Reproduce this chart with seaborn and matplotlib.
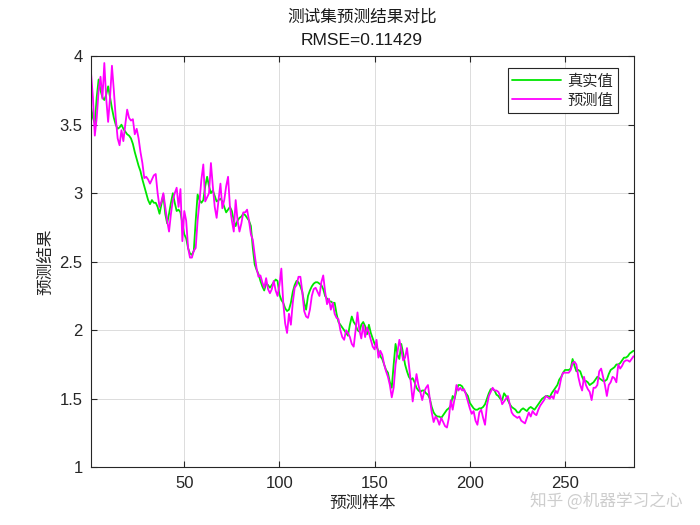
import numpy as np
import pandas as pd
import matplotlib
matplotlib.use("Agg")
import matplotlib.pyplot as plt
import seaborn as sns
from matplotlib.lines import Line2D

# 真实值 (green) and 预测值 (magenta), samples 1..286
true_vals = [
    3.63, 3.55, 3.51, 3.70, 3.83, 3.75, 3.70, 3.68, 3.72, 3.78,
    3.70, 3.62, 3.55, 3.50, 3.47, 3.48, 3.50, 3.47, 3.45, 3.43,
    3.42, 3.40, 3.36, 3.30, 3.25, 3.20, 3.16, 3.10, 3.05, 3.00,
    2.95, 2.92, 2.95, 2.93, 2.93, 2.90, 2.85, 2.92, 2.99, 2.85,
    2.78, 2.85, 2.93, 3.00, 2.93, 2.87, 2.88, 2.86, 2.78, 2.70,
    2.67, 2.60, 2.56, 2.55, 2.58, 2.80, 2.99, 2.95, 2.93, 2.95,
    3.05, 3.12, 3.05, 3.00, 3.02, 2.98, 2.94, 2.95, 2.96, 2.94,
    2.90, 2.86, 2.88, 2.90, 2.87, 2.80, 2.76, 2.80, 2.82, 2.83,
    2.85, 2.84, 2.82, 2.80, 2.76, 2.60, 2.48, 2.44, 2.41, 2.36,
    2.32, 2.29, 2.34, 2.33, 2.31, 2.33, 2.35, 2.37, 2.36, 2.26,
    2.22, 2.20, 2.16, 2.14, 2.15, 2.20, 2.28, 2.33, 2.36, 2.35,
    2.32, 2.28, 2.20, 2.15, 2.25, 2.29, 2.32, 2.34, 2.35, 2.35,
    2.34, 2.33, 2.30, 2.25, 2.23, 2.21, 2.21, 2.20, 2.20, 2.12,
    2.06, 2.04, 2.02, 2.00, 1.98, 1.96, 2.04, 2.10, 2.06, 2.04,
    2.00, 1.99, 2.04, 2.06, 2.03, 1.97, 2.04, 1.98, 1.94, 1.90,
    1.88, 1.85, 1.81, 1.79, 1.75, 1.71, 1.69, 1.62, 1.58, 1.75,
    1.90, 1.82, 1.79, 1.90, 1.83, 1.75, 1.70, 1.66, 1.64, 1.65,
    1.62, 1.58, 1.56, 1.55, 1.56, 1.56, 1.54, 1.53, 1.50, 1.44,
    1.40, 1.38, 1.37, 1.37, 1.36, 1.38, 1.40, 1.42, 1.43, 1.45,
    1.52, 1.50, 1.56, 1.60, 1.60, 1.59, 1.56, 1.54, 1.52, 1.47,
    1.45, 1.43, 1.42, 1.42, 1.43, 1.43, 1.44, 1.46, 1.50, 1.54,
    1.57, 1.57, 1.56, 1.53, 1.52, 1.50, 1.49, 1.54, 1.52, 1.49,
    1.46, 1.44, 1.43, 1.42, 1.40, 1.40, 1.42, 1.43, 1.42, 1.41,
    1.43, 1.44, 1.43, 1.42, 1.44, 1.46, 1.48, 1.50, 1.51, 1.52,
    1.52, 1.51, 1.54, 1.56, 1.58, 1.60, 1.64, 1.66, 1.69, 1.71,
    1.71, 1.71, 1.72, 1.79, 1.74, 1.70, 1.71, 1.70, 1.66, 1.63,
    1.63, 1.62, 1.60, 1.61, 1.62, 1.64, 1.66, 1.65, 1.64, 1.63,
    1.63, 1.64, 1.68, 1.71, 1.72, 1.73, 1.75, 1.75, 1.76, 1.78,
    1.80, 1.80, 1.81, 1.83, 1.84, 1.85,
]

pred_vals = [
    3.88, 3.70, 3.42, 3.55, 3.75, 3.85, 3.69, 3.95, 3.69, 3.52,
    3.70, 3.93, 3.75, 3.55, 3.40, 3.35, 3.46, 3.38, 3.50, 3.61,
    3.55, 3.53, 3.54, 3.43, 3.47, 3.40, 3.30, 3.22, 3.11, 3.12,
    3.10, 3.07, 3.10, 3.13, 3.14, 3.00, 2.90, 2.94, 3.00, 2.90,
    2.80, 2.72, 2.85, 2.95, 3.00, 3.04, 2.90, 3.03, 2.65, 2.87,
    2.80, 2.60, 2.53, 2.53, 2.58, 2.60, 2.80, 2.94, 3.10, 3.21,
    2.94, 2.97, 3.00, 3.22, 3.05, 2.90, 2.82, 2.95, 3.07, 2.89,
    2.95, 3.05, 3.12, 2.90, 2.80, 2.72, 2.95, 2.80, 2.72, 2.78,
    2.86, 2.86, 2.88, 2.80, 2.70, 2.66, 2.55, 2.45, 2.39, 2.40,
    2.35, 2.31, 2.38, 2.30, 2.27, 2.30, 2.36, 2.29, 2.25, 2.33,
    2.45, 2.20, 2.05, 1.98, 2.12, 2.04, 2.20, 2.31, 2.33, 2.39,
    2.39, 2.28, 2.14, 2.10, 2.09, 2.15, 2.25, 2.30, 2.31, 2.28,
    2.25, 2.35, 2.40, 2.28, 2.19, 2.23, 2.15, 2.20, 2.12, 2.09,
    2.08, 2.00, 1.95, 1.93, 2.00, 1.98, 1.95, 1.90, 1.88, 2.00,
    2.13, 2.00, 1.94, 2.04, 1.95, 2.02, 1.98, 1.93, 1.88, 1.86,
    1.93, 1.80, 1.85, 1.82, 1.75, 1.70, 1.66, 1.60, 1.51, 1.58,
    1.75, 1.84, 1.93, 1.86, 1.78, 1.80, 1.87, 1.75, 1.62, 1.48,
    1.58, 1.68, 1.60, 1.55, 1.49, 1.55, 1.58, 1.60, 1.50, 1.40,
    1.33, 1.37, 1.35, 1.31, 1.36, 1.33, 1.30, 1.29, 1.36, 1.49,
    1.42, 1.50, 1.60, 1.56, 1.58, 1.56, 1.57, 1.53, 1.48, 1.43,
    1.39, 1.41, 1.34, 1.31, 1.40, 1.42, 1.36, 1.31, 1.45, 1.52,
    1.55, 1.58, 1.56, 1.56, 1.55, 1.52, 1.46, 1.48, 1.50, 1.52,
    1.46, 1.40, 1.38, 1.37, 1.36, 1.37, 1.34, 1.33, 1.32, 1.36,
    1.40, 1.37, 1.41, 1.39, 1.38, 1.42, 1.45, 1.47, 1.49, 1.52,
    1.51, 1.50, 1.52, 1.50, 1.56, 1.54, 1.58, 1.65, 1.69, 1.69,
    1.69, 1.69, 1.71, 1.76, 1.77, 1.75, 1.66, 1.60, 1.56, 1.66,
    1.60, 1.57, 1.55, 1.49, 1.58, 1.58, 1.60, 1.70, 1.72, 1.66,
    1.60, 1.52, 1.60, 1.62, 1.66, 1.65, 1.62, 1.75, 1.72, 1.74,
    1.77, 1.78, 1.78, 1.77, 1.79, 1.81,
]

series_names = ["真实值", "预测值"]
y_ticks = [1, 1.5, 2, 2.5, 3, 3.5, 4]
x_ticks = [50, 100, 150, 200, 250]

sample = np.arange(1, len(true_vals) + 1)
df = pd.DataFrame({
    "样本": np.concatenate([sample, sample]),
    "值": true_vals + pred_vals,
    "类别": [series_names[0]] * len(true_vals) + [series_names[1]] * len(pred_vals),
})

sns.set_style("ticks")
plt.rcParams["font.family"] = ["Liberation Sans", "Noto Sans CJK SC", "DejaVu Sans"]
cjk = ["Noto Sans CJK SC", "DejaVu Sans"]
colors = {"真实值": "#00e600", "预测值": "#ff00ff"}

fig = plt.figure(figsize=(7, 5.25), dpi=100)
ax = fig.add_axes([0.13, 0.11, 0.775, 0.783])

sns.lineplot(data=df, x="样本", y="值", hue="类别", palette=colors,
             linewidth=1.3, ax=ax, legend=False)

ax.set_xlim(1, len(true_vals))
ax.set_ylim(1, 4)
ax.set_xticks(x_ticks)
ax.set_yticks(y_ticks)
ax.set_yticklabels([f"{v:g}" for v in y_ticks])
ax.tick_params(direction="in", top=True, right=True, labelsize=12,
               length=4, width=0.8, colors="#262626", pad=6)
ax.grid(True, color="#dcdcdc", linewidth=0.7)
for s in ax.spines.values():
    s.set_color("#262626")
    s.set_linewidth(0.8)

ax.set_xlabel("预测样本", family=cjk, fontsize=12, color="#262626", labelpad=3)
ax.set_ylabel("预测结果", family=cjk, fontsize=12, color="#262626", labelpad=4)

fig.text(0.517, 0.968, "测试集预测结果对比", family=cjk, fontsize=12,
         ha="center", va="center", color="#1a1a1a")
fig.text(0.517, 0.922, "RMSE=0.11429", fontsize=12.5,
         ha="center", va="center", color="#1a1a1a")

handles = [Line2D([], [], color=colors[n], lw=1.3) for n in series_names]
leg = ax.legend(handles, series_names, loc="upper right", prop={"family": cjk, "size": 11},
                frameon=True, fancybox=False, edgecolor="#262626", framealpha=1,
                borderpad=0.3, handlelength=3.2, handletextpad=0.4, labelspacing=0.15,
                bbox_to_anchor=(0.985, 0.99))
leg.get_frame().set_linewidth(0.8)

fig.text(0.975, 0.045, "知乎 @机器学习之心", family=cjk, fontsize=12,
         ha="right", va="center", color="#c8c8c8", alpha=0.9)

fig.savefig("out.png", dpi=100)
